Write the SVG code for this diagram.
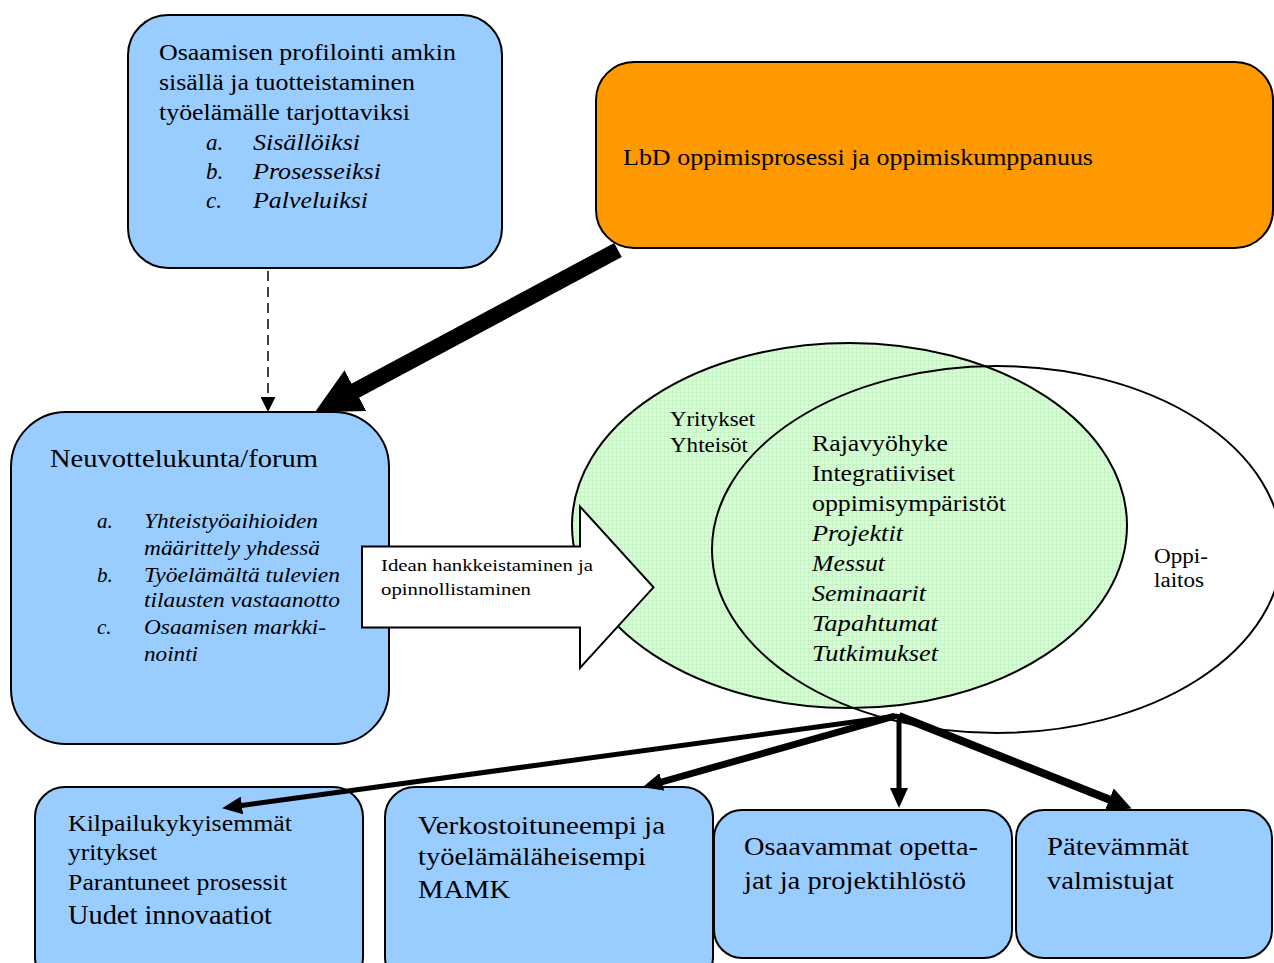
<svg xmlns="http://www.w3.org/2000/svg" width="1274" height="963" viewBox="0 0 1274 963">
<style>
.box{fill:#99ccff;stroke:#000;stroke-width:2}
.org{fill:#ff9900;stroke:#000;stroke-width:2}
.t{font-family:'Liberation Serif',serif;fill:#000}
.i{font-style:italic}
.ln{stroke:#000;fill:none}
</style>
<defs>
<pattern id="grid" width="4" height="4" patternUnits="userSpaceOnUse">
<rect width="4" height="4" fill="#d8fcd6"/>
<path d="M0,0.5H4M0.5,0V4" stroke="#bfeebd" stroke-width="0.6"/>
</pattern>
<marker id="ah" markerUnits="userSpaceOnUse" markerWidth="20" markerHeight="18" refX="4" refY="9" orient="auto"><path d="M0,0L20,9L0,18z" fill="#000"/></marker>
<marker id="ah2" markerUnits="userSpaceOnUse" markerWidth="24" markerHeight="24" refX="4" refY="12" orient="auto"><path d="M0,0L24,12L0,24z" fill="#000"/></marker>
<marker id="big" markerUnits="userSpaceOnUse" markerWidth="46" markerHeight="46" refX="5" refY="23" orient="auto"><path d="M0,0L46,23L0,46z" fill="#000"/></marker>
<marker id="sm" markerUnits="userSpaceOnUse" markerWidth="15" markerHeight="15" refX="2" refY="7.5" orient="auto"><path d="M0,0L15,7.5L0,15z" fill="#000"/></marker>
</defs>
<rect width="1274" height="963" fill="#fff"/>

<g id="venn">
<ellipse cx="849.5" cy="525.5" rx="277.5" ry="182.5" fill="url(#grid)" stroke="#000" stroke-width="2"/>
<ellipse cx="997" cy="549.5" rx="285" ry="183.5" fill="none" stroke="#000" stroke-width="2"/>
<text class="t" font-size="20"><tspan x="670" y="426" textLength="85" lengthAdjust="spacingAndGlyphs">Yritykset</tspan><tspan x="670" y="452" textLength="78" lengthAdjust="spacingAndGlyphs">Yhteisöt</tspan></text>
<text class="t" font-size="23">
<tspan x="812" y="451" textLength="136" lengthAdjust="spacingAndGlyphs">Rajavyöhyke</tspan>
<tspan x="812" y="481" textLength="143" lengthAdjust="spacingAndGlyphs">Integratiiviset</tspan>
<tspan x="812" y="511" textLength="194" lengthAdjust="spacingAndGlyphs">oppimisympäristöt</tspan>
<tspan class="i" x="812" y="541" textLength="91" lengthAdjust="spacingAndGlyphs">Projektit</tspan>
<tspan class="i" x="812" y="571" textLength="73" lengthAdjust="spacingAndGlyphs">Messut</tspan>
<tspan class="i" x="812" y="601" textLength="114" lengthAdjust="spacingAndGlyphs">Seminaarit</tspan>
<tspan class="i" x="812" y="631" textLength="126" lengthAdjust="spacingAndGlyphs">Tapahtumat</tspan>
<tspan class="i" x="812" y="661" textLength="126" lengthAdjust="spacingAndGlyphs">Tutkimukset</tspan>
</text>
<text class="t" font-size="20"><tspan x="1154" y="563" textLength="54" lengthAdjust="spacingAndGlyphs">Oppi-</tspan><tspan x="1154" y="587" textLength="50" lengthAdjust="spacingAndGlyphs">laitos</tspan></text>
</g>

<g id="node-profilointi">
<rect class="box" x="128" y="15" width="374" height="253" rx="40"/>
<text class="t" font-size="23">
<tspan x="159" y="60" textLength="297" lengthAdjust="spacingAndGlyphs">Osaamisen profilointi amkin</tspan>
<tspan x="159" y="90" textLength="256" lengthAdjust="spacingAndGlyphs">sisällä ja tuotteistaminen</tspan>
<tspan x="159" y="120" textLength="251" lengthAdjust="spacingAndGlyphs">työelämälle tarjottaviksi</tspan>
</text>
<text class="t i" font-size="23">
<tspan x="206" y="150">a.</tspan><tspan x="253" y="150" textLength="107" lengthAdjust="spacingAndGlyphs">Sisällöiksi</tspan>
<tspan x="206" y="179">b.</tspan><tspan x="253" y="179" textLength="128" lengthAdjust="spacingAndGlyphs">Prosesseiksi</tspan>
<tspan x="206" y="208">c.</tspan><tspan x="253" y="208" textLength="115" lengthAdjust="spacingAndGlyphs">Palveluiksi</tspan>
</text>
</g>

<g id="node-lbd">
<rect class="org" x="596" y="62" width="677" height="186" rx="38"/>
<text class="t" font-size="23" x="623" y="165" textLength="470" lengthAdjust="spacingAndGlyphs">LbD oppimisprosessi ja oppimiskumppanuus</text>
</g>

<g id="node-neuvottelukunta">
<rect class="box" x="11" y="412" width="378" height="332" rx="55"/>
<text class="t" font-size="26" x="50" y="467" textLength="268" lengthAdjust="spacingAndGlyphs">Neuvottelukunta/forum</text>
<text class="t i" font-size="21">
<tspan x="97" y="528">a.</tspan><tspan x="144" y="528" textLength="174" lengthAdjust="spacingAndGlyphs">Yhteistyöaihioiden</tspan>
<tspan x="144" y="555" textLength="176" lengthAdjust="spacingAndGlyphs">määrittely yhdessä</tspan>
<tspan x="97" y="582">b.</tspan><tspan x="144" y="582" textLength="196" lengthAdjust="spacingAndGlyphs">Työelämältä tulevien</tspan>
<tspan x="144" y="607" textLength="196" lengthAdjust="spacingAndGlyphs">tilausten vastaanotto</tspan>
<tspan x="97" y="634">c.</tspan><tspan x="144" y="634" textLength="182" lengthAdjust="spacingAndGlyphs">Osaamisen markki-</tspan>
<tspan x="144" y="661" textLength="54" lengthAdjust="spacingAndGlyphs">nointi</tspan>
</text>
</g>

<g id="node-idean">
<path d="M362,546.5H580V506.5L653.5,587.3L580,668V627.5H362z" fill="#fff" stroke="#000" stroke-width="2"/>
<text class="t" font-size="17"><tspan x="381" y="571" textLength="212" lengthAdjust="spacingAndGlyphs">Idean hankkeistaminen ja</tspan><tspan x="381" y="595" textLength="150" lengthAdjust="spacingAndGlyphs">opinnollistaminen</tspan></text>
</g>

<g id="node-kilpailu">
<rect class="box" x="35" y="787" width="328" height="200" rx="30"/>
<text class="t" font-size="23">
<tspan x="68" y="831" textLength="224" lengthAdjust="spacingAndGlyphs">Kilpailukykyisemmät</tspan>
<tspan x="68" y="860" textLength="89" lengthAdjust="spacingAndGlyphs">yritykset</tspan>
<tspan x="68" y="890" textLength="219" lengthAdjust="spacingAndGlyphs">Parantuneet prosessit</tspan>
</text>
<text class="t" font-size="27" x="68" y="924" textLength="204" lengthAdjust="spacingAndGlyphs">Uudet innovaatiot</text>
</g>

<g id="node-verkosto">
<rect class="box" x="385" y="787" width="328" height="200" rx="30"/>
<text class="t" font-size="26">
<tspan x="418" y="834" textLength="247" lengthAdjust="spacingAndGlyphs">Verkostoituneempi ja</tspan>
<tspan x="418" y="865" textLength="228" lengthAdjust="spacingAndGlyphs">työelämäläheisempi</tspan>
<tspan x="418" y="898" textLength="92" lengthAdjust="spacingAndGlyphs">MAMK</tspan>
</text>
</g>

<g id="node-osaavammat">
<rect class="box" x="714" y="810" width="298" height="148" rx="28"/>
<text class="t" font-size="26">
<tspan x="744" y="855" textLength="234" lengthAdjust="spacingAndGlyphs">Osaavammat opetta-</tspan>
<tspan x="744" y="889" textLength="222" lengthAdjust="spacingAndGlyphs">jat ja projektihlöstö</tspan>
</text>
</g>

<g id="node-patevammat">
<rect class="box" x="1016" y="810" width="256" height="148" rx="28"/>
<text class="t" font-size="26">
<tspan x="1047" y="855" textLength="142" lengthAdjust="spacingAndGlyphs">Pätevämmät</tspan>
<tspan x="1047" y="889" textLength="127" lengthAdjust="spacingAndGlyphs">valmistujat</tspan>
</text>
</g>

<g id="connectors">
<line class="ln" x1="268" y1="271" x2="268" y2="399" stroke-width="1.5" stroke-dasharray="10,6" marker-end="url(#sm)"/>
<line class="ln" x1="618" y1="250" x2="351" y2="393" stroke-width="16" marker-end="url(#big)"/>
<line class="ln" x1="897" y1="716" x2="238" y2="806" stroke-width="5" marker-end="url(#ah)"/>
<line class="ln" x1="895" y1="716" x2="658" y2="783" stroke-width="7" marker-end="url(#ah)"/>
<line class="ln" x1="899" y1="714" x2="899" y2="792" stroke-width="5" marker-end="url(#ah)"/>
<line class="ln" x1="899" y1="716" x2="1113" y2="801" stroke-width="8" marker-end="url(#ah2)"/>
</g>
</svg>
